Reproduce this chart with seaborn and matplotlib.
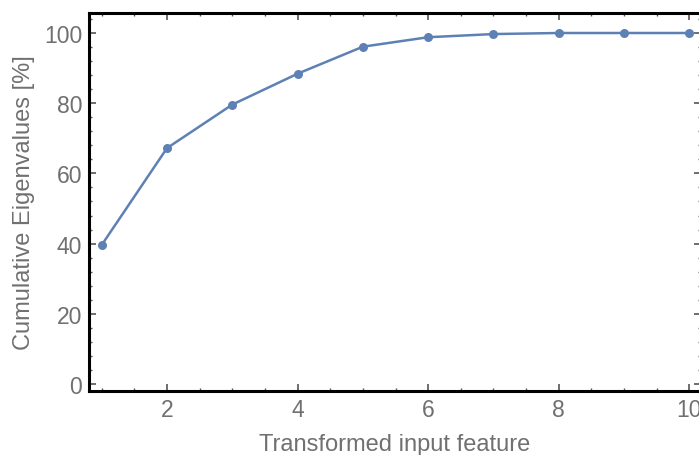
import matplotlib
matplotlib.use("Agg")
import matplotlib.pyplot as plt
import seaborn as sns
import pandas as pd
from matplotlib.ticker import MultipleLocator

features = [1, 2, 3, 4, 5, 6, 7, 8, 9, 10]
cumulative = [39.6, 67.2, 79.6, 88.4, 96.1, 98.8, 99.7, 100.0, 100.0, 100.0]

sns.set_theme(style="white")
plt.rcParams['font.family'] = ['Liberation Sans', 'DejaVu Sans']

df = pd.DataFrame({"feature": features, "cum": cumulative})

fig = plt.figure(figsize=(6.99, 4.56), dpi=100)
ax = fig.add_axes([0.1273, 0.1404, 0.8757, 0.8289])
line_color = "#5E81B5"
sns.lineplot(data=df, x="feature", y="cum", ax=ax, color=line_color, lw=1.8,
             marker="o", markersize=6.5, markeredgewidth=0, markerfacecolor=line_color)

ax.set_xlim(0.805, 10.18)
ax.set_ylim(-2, 105.7)
ax.xaxis.set_major_locator(MultipleLocator(2))
ax.xaxis.set_minor_locator(MultipleLocator(0.5))
ax.yaxis.set_major_locator(MultipleLocator(20))
ax.yaxis.set_minor_locator(MultipleLocator(4))

text_color = "#707070"
tick_color = "#555555"
ax.tick_params(which="both", direction="in", top=True, right=True, bottom=True, left=True,
               color=tick_color, labelcolor=text_color, labelsize=16.5)
ax.tick_params(which="major", length=5, width=1.2, pad=5)
ax.tick_params(which="minor", length=2.5, width=1.0)
for side in ["left", "bottom", "top", "right"]:
    ax.spines[side].set_color("black")
    ax.spines[side].set_linewidth(2.2)
    ax.spines[side].set_visible(True)

ax.set_xlabel("Transformed input feature", color=text_color, fontsize=17, labelpad=9)
ax.set_ylabel("Cumulative Eigenvalues [%]", color=text_color, fontsize=17, labelpad=6)

fig.savefig("out.png", dpi=100)
